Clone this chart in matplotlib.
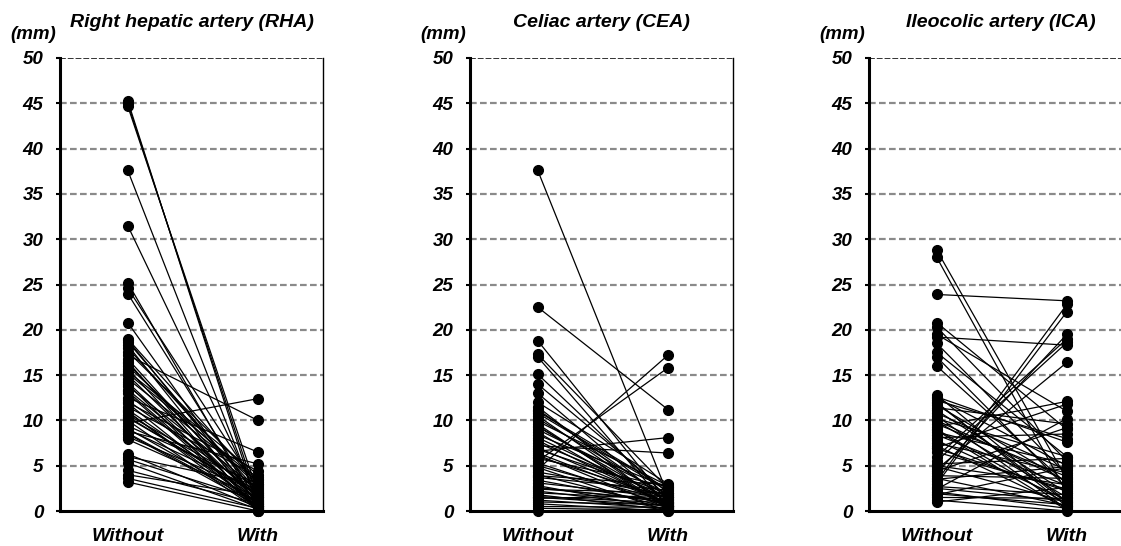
import matplotlib
matplotlib.use("Agg")
from matplotlib import pyplot as plt

# Diametros (mm) sem / com - leitura aproximada da figura
titulos = ["Right hepatic artery (RHA)", "Celiac artery (CEA)", "Ileocolic artery (ICA)"]
grupos = ["Without", "With"]

rha_without = [45.3, 45.0, 44.7, 37.6, 31.5, 25.2, 24.6, 24.0, 20.8, 19.0,
               18.7, 18.3, 18.0, 17.6, 17.2, 16.8, 16.3, 16.0, 15.7, 15.4,
               15.0, 14.6, 14.2, 13.8, 13.4, 13.0, 12.5, 12.2, 11.9, 11.5,
               11.2, 10.9, 10.6, 10.3, 10.0, 9.7, 9.4, 9.1, 8.8, 8.5,
               8.2, 7.9, 6.3, 6.0, 5.7, 5.3, 4.5, 4.0, 3.6, 3.2,
               14.0, 12.0, 16.5, 11.0, 9.0, 18.9, 15.2, 13.2, 10.4, 8.6]
rha_with = [0.5, 1.2, 2.0, 0.8, 1.5, 0.3, 2.5, 1.0, 0.6, 3.0,
            1.8, 0.4, 2.2, 3.5, 10.0, 0.9, 1.4, 2.8, 0.2, 4.0,
            1.1, 3.2, 0.7, 2.4, 1.6, 0.3, 6.5, 2.0, 0.5, 3.8,
            1.3, 0.8, 2.6, 1.9, 0.1, 12.4, 3.0, 1.0, 5.2, 0.6,
            2.1, 1.5, 0.4, 2.9, 1.2, 0.2, 0.8, 1.7, 0.3, 0.0,
            0.0, 4.4, 0.0, 0.2, 2.3, 1.1, 3.4, 0.6, 1.8, 0.9]

cea_without = [37.6, 22.5, 18.8, 17.3, 17.0, 15.1, 14.0, 13.0, 12.0, 11.5,
               11.2, 10.8, 10.5, 10.2, 9.9, 9.6, 9.3, 9.0, 8.7, 8.4,
               8.1, 7.8, 4.6, 5.5, 6.6, 7.2, 7.0, 6.8, 6.2, 6.0,
               5.8, 5.3, 5.0, 4.8, 4.3, 4.0, 3.7, 3.4, 3.1, 2.8,
               2.6, 2.4, 2.2, 2.0, 1.8, 1.6, 1.4, 1.2, 1.0, 0.8,
               0.5, 0.3, 0.0, 11.0, 9.4, 7.5, 6.4, 3.9, 2.5, 1.5]
cea_with = [1.8, 11.2, 1.0, 2.5, 0.5, 1.5, 2.0, 0.8, 3.0, 0.3,
            1.2, 2.2, 0.6, 1.6, 2.8, 0.2, 1.0, 1.9, 0.4, 2.6,
            1.3, 0.7, 17.2, 15.8, 8.1, 6.4, 0.9, 2.0, 0.3, 1.4,
            2.7, 0.6, 1.1, 0.0, 1.8, 0.4, 2.3, 0.8, 1.5, 0.2,
            1.0, 2.0, 0.5, 1.3, 0.1, 0.9, 1.7, 0.3, 0.7, 0.0,
            0.4, 0.1, 0.2, 2.4, 0.5, 1.6, 0.9, 2.9, 1.2, 0.6]

ica_without = [28.8, 28.0, 23.9, 20.8, 20.3, 19.5, 19.2, 18.5, 17.5, 17.0,
               16.0, 12.8, 12.5, 12.2, 12.0, 11.7, 11.4, 11.1, 10.8, 10.5,
               10.2, 9.9, 9.6, 9.3, 9.0, 8.7, 8.4, 8.1, 7.8, 7.5,
               7.2, 6.9, 6.0, 5.5, 5.2, 4.9, 4.6, 4.2, 3.9, 3.6,
               3.3, 3.0, 2.7, 2.4, 2.1, 1.8, 1.5, 1.2, 1.0, 12.6,
               11.9, 10.0, 8.9, 7.0, 5.0, 3.5, 2.5, 1.9, 4.4, 6.5]
ica_with = [3.5, 2.0, 23.2, 9.0, 5.5, 11.0, 18.3, 4.0, 6.0, 2.5,
            3.0, 1.0, 5.0, 8.0, 0.5, 3.2, 9.6, 2.0, 4.5, 0.2,
            6.0, 1.5, 3.8, 12.1, 0.8, 5.2, 2.8, 8.5, 1.2, 4.2,
            0.4, 2.2, 19.0, 18.6, 5.8, 1.0, 16.4, 19.5, 3.6, 0.6,
            22.8, 22.0, 1.8, 10.2, 0.3, 4.8, 1.4, 0.0, 2.6, 7.6,
            0.9, 3.3, 0.1, 11.8, 2.9, 4.9, 1.1, 0.7, 9.2, 2.4]

dados = [(rha_without, rha_with), (cea_without, cea_with), (ica_without, ica_with)]
esquerdas = [60, 470, 869]

W, H = 1121, 546
fig = plt.figure(figsize=(W / 100, H / 100), dpi=100)
fonte = "Liberation Sans"

for i in range(3):
    ax = fig.add_axes([esquerdas[i] / W, 35 / H, 263 / W, 453 / H])
    sem, com = dados[i]
    for a, b in zip(sem, com):
        ax.plot([0, 1], [a, b], color="black", lw=0.9, zorder=3, clip_on=False)
    ax.plot([0] * len(sem), sem, "o", color="black", ms=7, zorder=4, clip_on=False)
    ax.plot([1] * len(com), com, "o", color="black", ms=7, zorder=4, clip_on=False)

    ax.set_xlim(-0.52, 1.5)
    ax.set_ylim(0, 50)
    ax.set_yticks(range(0, 51, 5))
    ax.set_yticklabels([str(v) for v in range(0, 51, 5)], fontfamily=fonte,
                       fontweight="bold", fontstyle="italic", fontsize=13.5)
    ax.set_xticks([0, 1])
    ax.set_xticklabels(grupos, fontfamily=fonte, fontweight="bold",
                       fontstyle="italic", fontsize=14)
    ax.tick_params(axis="x", length=0, pad=12)
    ax.tick_params(axis="y", length=3, width=1.5, pad=9)
    for v in range(5, 50, 5):
        ax.axhline(v, color="#8a8a8a", lw=1.6, ls=(0, (3, 1.5)), zorder=1)
    ax.axhline(50, color="#333333", lw=1.4, ls=(0, (3, 1)), zorder=1)

    ax.spines["top"].set_visible(False)
    ax.spines["left"].set_linewidth(2.2)
    ax.spines["bottom"].set_linewidth(2.2)
    ax.spines["right"].set_linewidth(1.0)

    ax.set_title(titulos[i], fontfamily=fonte, fontweight="bold",
                 fontstyle="italic", fontsize=14, pad=22)
    ax.text(-0.103, 1.051, "(mm)", transform=ax.transAxes, ha="center", va="center",
            fontfamily=fonte, fontweight="bold", fontstyle="italic", fontsize=13.5)

fig.savefig("out.png", dpi=100)
